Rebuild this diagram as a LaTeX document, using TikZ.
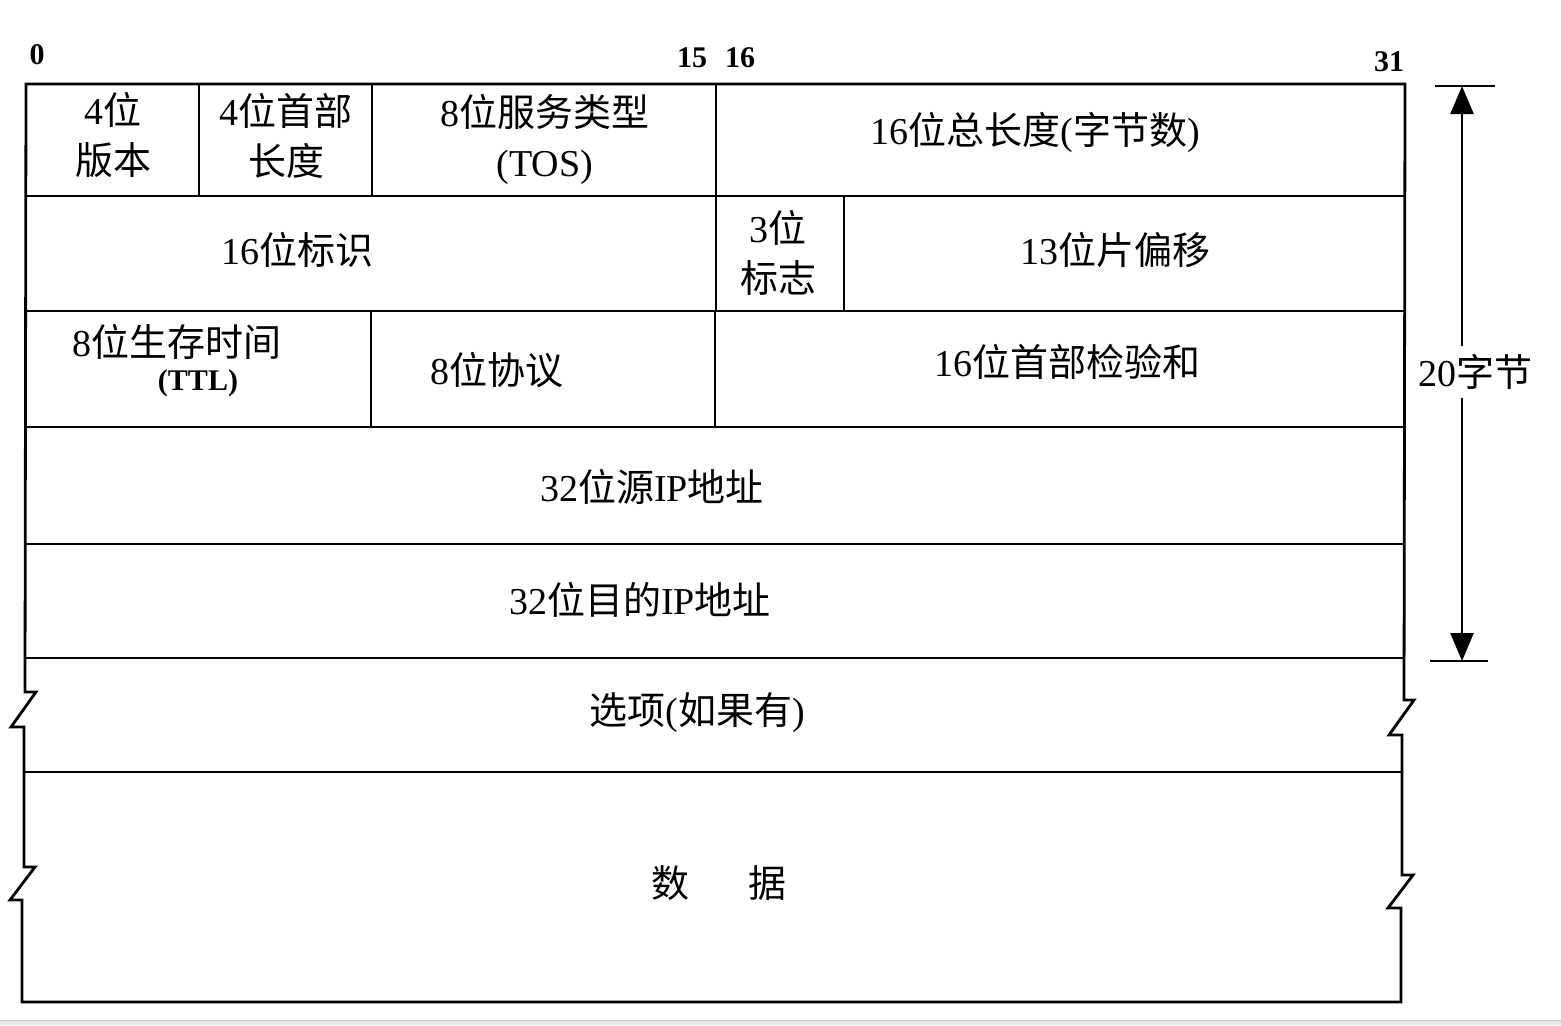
\documentclass[tikz,border=0pt]{standalone}
\usepackage{fontspec}
\setmainfont{Liberation Serif}
\newfontfamily\cjk{Noto Sans CJK SC}
\usetikzlibrary{arrows.meta}
\newcommand{\zhs}[1]{{\cjk #1}}
\begin{document}
\begin{tikzpicture}[x=0.5pt,y=-0.5pt,
  frame/.style={line width=1.4pt, line join=miter},
  rule/.style={line width=1.4pt},
  lbl/.style={font=\fontsize{19}{25}\selectfont, align=center, inner sep=0pt},
  bit/.style={font=\fontsize{15}{18}\selectfont\bfseries, inner sep=0pt},
  dim/.style={line width=1.2pt}]
\useasboundingbox (0,0) rectangle (1561,1025);
\fill[white] (0,0) rectangle (1561,1025);
\fill[black!9] (0,1020) rectangle (1561,1025);
\draw[black!22, line width=0.6pt] (0,1020.5) -- (1561,1020.5);

% outline with break marks
\draw[frame] (24,727) -- (11,727) -- (36,692) -- (25,692) -- (26,84) -- (1405,84)
  -- (1404,700) -- (1414,700) -- (1389,735) -- (1402,735) -- (1402,875)
  -- (1413,875) -- (1388,908) -- (1401,908) -- (1401,1002) -- (22,1002)
  -- (22,900) -- (10,900) -- (35,867) -- (24,867) -- cycle;

% row lines
\draw[rule] (26,196) -- (1405,196);
\draw[rule] (26,311) -- (1404,311);
\draw[rule] (26,427) -- (1404,427);
\draw[rule] (25,544) -- (1404,544);
\draw[rule] (25,658) -- (1404,658);
\draw[rule] (24,772) -- (1402,772);

% column dividers
\draw[rule] (199,84) -- (199,196);
\draw[rule] (372,84) -- (372,196);
\draw[rule] (716,84) -- (716,196);
\draw[rule] (716,196) -- (716,311);
\draw[rule] (844,196) -- (844,311);
\draw[rule] (371,311) -- (371,427);
\draw[rule] (715,311) -- (715,427);

% bit numbers
\node[bit] (b0) at (37,55) {0};
\node[bit] (b15) at (692,58) {15};
\node[bit] (b16) at (740,58) {16};
\node[bit] (b31) at (1389,62) {31};

% fields
\node[lbl] (ver) at (113,135) {4\zhs{位}\\\zhs{版本}};
\node[lbl] (ihl) at (286,136) {4\zhs{位首部}\\\zhs{长度}};
\node[lbl] (tos) at (545,139) {8\zhs{位服务类型}\\(TOS)};
\node[lbl] (tot) at (1035,132) {16\zhs{位总长度}(\zhs{字节数})};
\node[lbl] (ident) at (297,250) {16\zhs{位标识}};
\node[lbl] (flag) at (778,253) {3\zhs{位}\\\zhs{标志}};
\node[lbl] (frag) at (1115,250) {13\zhs{位片偏移}};
\node[lbl] (ttl) at (177,342) {8\zhs{位生存时间}};
\node[bit] (ttlb) at (198,383) {(TTL)};
\node[lbl] (proto) at (497,370) {8\zhs{位协议}};
\node[lbl] (csum) at (1067,362) {16\zhs{位首部检验和}};
\node[lbl] (src) at (652,487) {32\zhs{位源}IP\zhs{地址}};
\node[lbl] (dst) at (640,600) {32\zhs{位目的}IP\zhs{地址}};
\node[lbl] (opt) at (697,713) {\zhs{选项}(\zhs{如果有})};
\node[lbl] (data) at (719,883) {\zhs{数}\hspace{30pt}\zhs{据}};

% 20-byte dimension
\coordinate (dtop) at (1462,86);
\coordinate (dbot) at (1462,661);
\draw[dim] (1435,86) -- (1495,86);
\draw[dim] (1430,661) -- (1488,661);
\draw[dim, {Triangle[width=11.5pt,length=14pt]}-{Triangle[width=11.5pt,length=14pt]}] (dtop) -- (dbot);
\node[lbl, fill=white, inner sep=4pt] (sz) at (1475,372) {20\zhs{字节}};
\end{tikzpicture}
\end{document}
